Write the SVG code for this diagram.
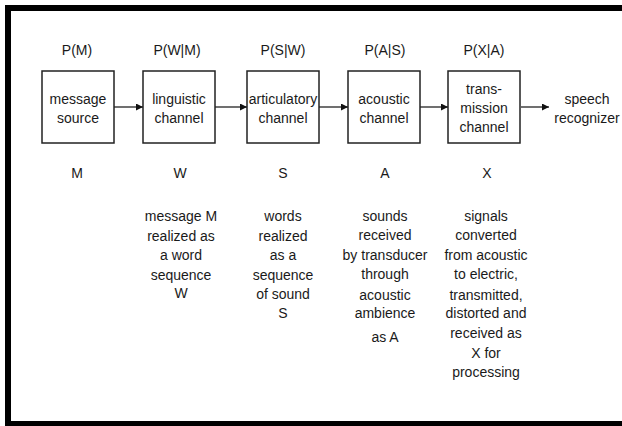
<svg xmlns="http://www.w3.org/2000/svg" width="622" height="426" viewBox="0 0 622 426">
<defs>
<style>
text{font-family:"Liberation Sans",Arial,sans-serif;font-size:14px;fill:#1a1a1a;text-anchor:middle}
.box{fill:#fff;stroke:#222;stroke-width:1.5}
.conn{stroke:#222;stroke-width:1.3;fill:none;marker-end:url(#ah)}
</style>
<marker id="ah" viewBox="0 0 10 10" refX="10" refY="5" markerWidth="7" markerHeight="7" markerUnits="userSpaceOnUse" orient="auto">
<path d="M0,0 L10,5 L0,10 z" fill="#111"/>
</marker>
</defs>
<rect width="622" height="426" fill="#fff"/>
<g id="frame" fill="#000">
<rect x="5" y="5" width="617" height="6"/>
<rect x="5" y="5" width="6" height="421"/>
<rect x="5" y="421" width="617" height="5"/>
</g>
<g id="connectors">
<line class="conn" x1="114" y1="107" x2="143" y2="107"/>
<line class="conn" x1="215" y1="107" x2="247" y2="107"/>
<line class="conn" x1="319" y1="107" x2="348" y2="107"/>
<line class="conn" x1="420" y1="107" x2="448" y2="107"/>
<line class="conn" x1="521" y1="107" x2="549" y2="107"/>
</g>
<g id="n-message">
<text x="77" y="55">P(M)</text>
<rect class="box" x="42" y="71" width="72" height="72"/>
<text x="78" y="104">message</text>
<text x="78" y="123">source</text>
<text x="77" y="178">M</text>
</g>
<g id="n-linguistic">
<text x="177" y="55">P(W|M)</text>
<rect class="box" x="143" y="71" width="72" height="72"/>
<text x="179" y="104">linguistic</text>
<text x="179" y="123">channel</text>
<text x="180" y="178">W</text>
<text x="181" y="221">message M</text>
<text x="181" y="241">realized as</text>
<text x="181" y="260">a word</text>
<text x="181" y="280">sequence</text>
<text x="181" y="298">W</text>
</g>
<g id="n-articulatory">
<text x="283" y="55">P(S|W)</text>
<rect class="box" x="247" y="71" width="72" height="72"/>
<text x="283" y="104">articulatory</text>
<text x="283" y="123">channel</text>
<text x="283" y="178">S</text>
<text x="283" y="221">words</text>
<text x="283" y="241">realized</text>
<text x="283" y="260">as a</text>
<text x="283" y="280">sequence</text>
<text x="283" y="299">of sound</text>
<text x="283" y="318">S</text>
</g>
<g id="n-acoustic">
<text x="385" y="55">P(A|S)</text>
<rect class="box" x="348" y="71" width="72" height="72"/>
<text x="384" y="104">acoustic</text>
<text x="384" y="123">channel</text>
<text x="385" y="178">A</text>
<text x="385" y="221">sounds</text>
<text x="385" y="240">received</text>
<text x="385" y="260">by transducer</text>
<text x="385" y="279">through</text>
<text x="385" y="300">acoustic</text>
<text x="385" y="318">ambience</text>
<text x="385" y="342">as A</text>
</g>
<g id="n-transmission">
<text x="484" y="55">P(X|A)</text>
<rect class="box" x="448" y="71" width="72" height="72"/>
<text x="484" y="94">trans-</text>
<text x="484" y="113">mission</text>
<text x="484" y="132">channel</text>
<text x="487" y="178">X</text>
<text x="486" y="221">signals</text>
<text x="486" y="240">converted</text>
<text x="486" y="260">from acoustic</text>
<text x="486" y="279">to electric,</text>
<text x="486" y="300">transmitted,</text>
<text x="486" y="318">distorted and</text>
<text x="486" y="338">received as</text>
<text x="486" y="358">X for</text>
<text x="486" y="377">processing</text>
</g>
<g id="n-recognizer">
<text x="587" y="104">speech</text>
<text x="587" y="123">recognizer</text>
</g>
</svg>
